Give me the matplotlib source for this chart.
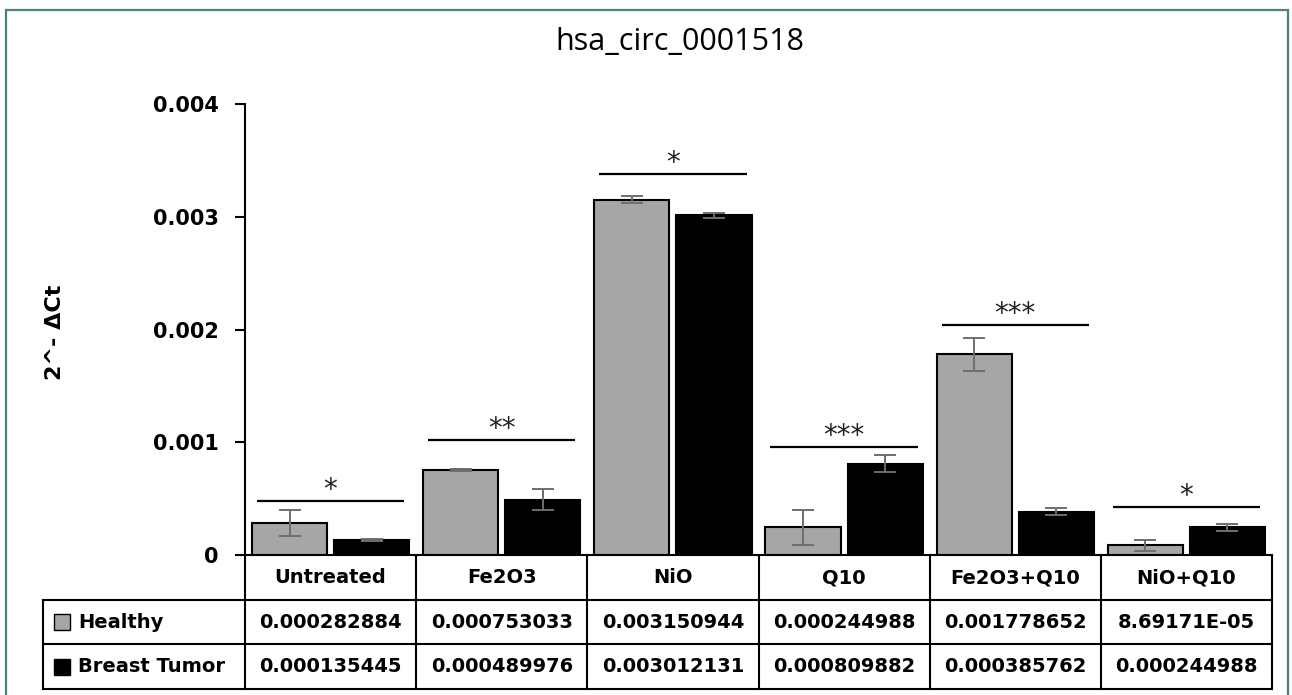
import matplotlib
matplotlib.use("Agg")
import matplotlib.pyplot as plt
from matplotlib.lines import Line2D
from matplotlib.patches import Rectangle
from matplotlib.transforms import blended_transform_factory
import numpy as np

# ---- data ----
categories = ["Untreated", "Fe2O3", "NiO", "Q10", "Fe2O3+Q10", "NiO+Q10"]
healthy = [0.000282884, 0.000753033, 0.003150944, 0.000244988, 0.001778652, 8.69171E-05]
tumor = [0.000135445, 0.000489976, 0.003012131, 0.000809882, 0.000385762, 0.000244988]
healthy_labels = ["0.000282884", "0.000753033", "0.003150944", "0.000244988", "0.001778652", "8.69171E-05"]
tumor_labels = ["0.000135445", "0.000489976", "0.003012131", "0.000809882", "0.000385762", "0.000244988"]
healthy_err = [0.000115, 0.000012, 0.000033, 0.000155, 0.000145, 0.00005]
tumor_err = [0.00001, 0.000095, 0.000022, 0.000073, 0.000033, 0.000033]
sig_level = [0.00048, 0.00102, 0.00338, 0.00096, 0.00204, 0.00043]
sig_text = ["*", "**", "*", "***", "***", "*"]
series_names = ["Healthy", "Breast Tumor"]
yticks = [0, 0.001, 0.002, 0.003, 0.004]
ytick_labels = ["0", "0.001", "0.002", "0.003", "0.004"]
title = "hsa_circ_0001518"
ylabel = "2^- \u0394Ct"

W, H = 1292, 695
fig = plt.figure(figsize=(W / 100, H / 100), dpi=100)
fig.patch.set_facecolor("white")

def fx(p):
    return p / W

def fy(p):
    return 1 - p / H

ax_left, ax_right, ax_top, ax_bottom = 245, 1272, 104, 555
ax = fig.add_axes([fx(ax_left), fy(ax_bottom), fx(ax_right - ax_left), (ax_bottom - ax_top) / H])
ax.set_xlim(-0.5, len(categories) - 0.5)
ax.set_ylim(0, 0.004)

x = np.arange(len(categories))
bw = 0.44
off = 0.24
gray = "#a6a6a6"
ax.bar(x - off, healthy, bw, color=gray, edgecolor="black", linewidth=1.5, zorder=2)
ax.bar(x + off, tumor, bw, color="black", edgecolor="black", linewidth=1.5, zorder=2)
ekw = dict(fmt="none", ecolor="#6e6e6e", elinewidth=1.4, capsize=8, capthick=1.4, zorder=3)
ax.errorbar(x - off, healthy, yerr=healthy_err, **ekw)
ax.errorbar(x + off, tumor, yerr=tumor_err, **ekw)

for i, (lvl, st) in enumerate(zip(sig_level, sig_text)):
    ax.plot([i - 0.43, i + 0.43], [lvl, lvl], color="black", lw=1.6, zorder=3, solid_capstyle="butt")
    ax.annotate(st, (i, lvl), xytext=(0, 2), textcoords="offset points",
                ha="center", va="baseline", fontsize=20, color="#222222")

for s in ["top", "right", "bottom"]:
    ax.spines[s].set_visible(False)
ax.spines["left"].set_linewidth(1.5)
ax.set_xticks([])
ax.set_yticks(yticks)
ax.set_yticklabels(ytick_labels, fontsize=15, fontweight="bold", family="DejaVu Sans")
ax.tick_params(axis="y", direction="out", length=7, width=1.5, pad=12)

# title and y label
fig.text(fx(680), fy(42), title, fontsize=22, family="Open Sans", ha="center", va="center")
fig.text(fx(55), fy(332), ylabel, fontsize=16, fontweight="bold", rotation=90,
         ha="center", va="center", family="DejaVu Sans")

# ---- data table below the axes ----
bt = blended_transform_factory(ax.transData, fig.transFigure)
lw_t = 1.5
r0, r1, r2, r3 = 555, 600, 644, 689
tab_left = 43

def hline_fig(x0, x1, ypx):
    fig.add_artist(Line2D([fx(x0), fx(x1)], [fy(ypx), fy(ypx)], color="black", lw=lw_t,
                          transform=fig.transFigure))

fig.add_artist(Line2D([-0.5, len(categories) - 0.5], [fy(r0), fy(r0)], color="black", lw=lw_t, transform=bt))
for yp in (r1, r2, r3):
    hline_fig(tab_left, ax_right, yp)
for b in np.arange(len(categories) + 1) - 0.5:
    fig.add_artist(Line2D([b, b], [fy(r0), fy(r3)], color="black", lw=lw_t, transform=bt))
fig.add_artist(Line2D([fx(tab_left), fx(tab_left)], [fy(r1), fy(r3)], color="black", lw=lw_t,
                      transform=fig.transFigure))

tkw = dict(fontsize=14, fontweight="bold", family="DejaVu Sans", va="center")
for i, c in enumerate(categories):
    fig.text(i, fy((r0 + r1) / 2), c, ha="center", transform=bt, **tkw)
    fig.text(i, fy((r1 + r2) / 2), healthy_labels[i], ha="center", transform=bt, **tkw)
    fig.text(i, fy((r2 + r3) / 2), tumor_labels[i], ha="center", transform=bt, **tkw)

for name, col, (ya, yb) in zip(series_names, [gray, "black"], [(r1, r2), (r2, r3)]):
    yc = (ya + yb) / 2
    fig.add_artist(Rectangle((fx(54), fy(yc + 8)), fx(16), 16 / H, facecolor=col,
                             edgecolor="black", lw=1.0, transform=fig.transFigure))
    fig.text(fx(78), fy(yc), name, ha="left", **tkw)

# outer frame of the picture
fig.add_artist(Rectangle((fx(6), fy(700)), fx(1282), 690 / H, facecolor="none",
                         edgecolor="#4f8080", lw=1.6, transform=fig.transFigure))

fig.savefig("out.png", dpi=100)
